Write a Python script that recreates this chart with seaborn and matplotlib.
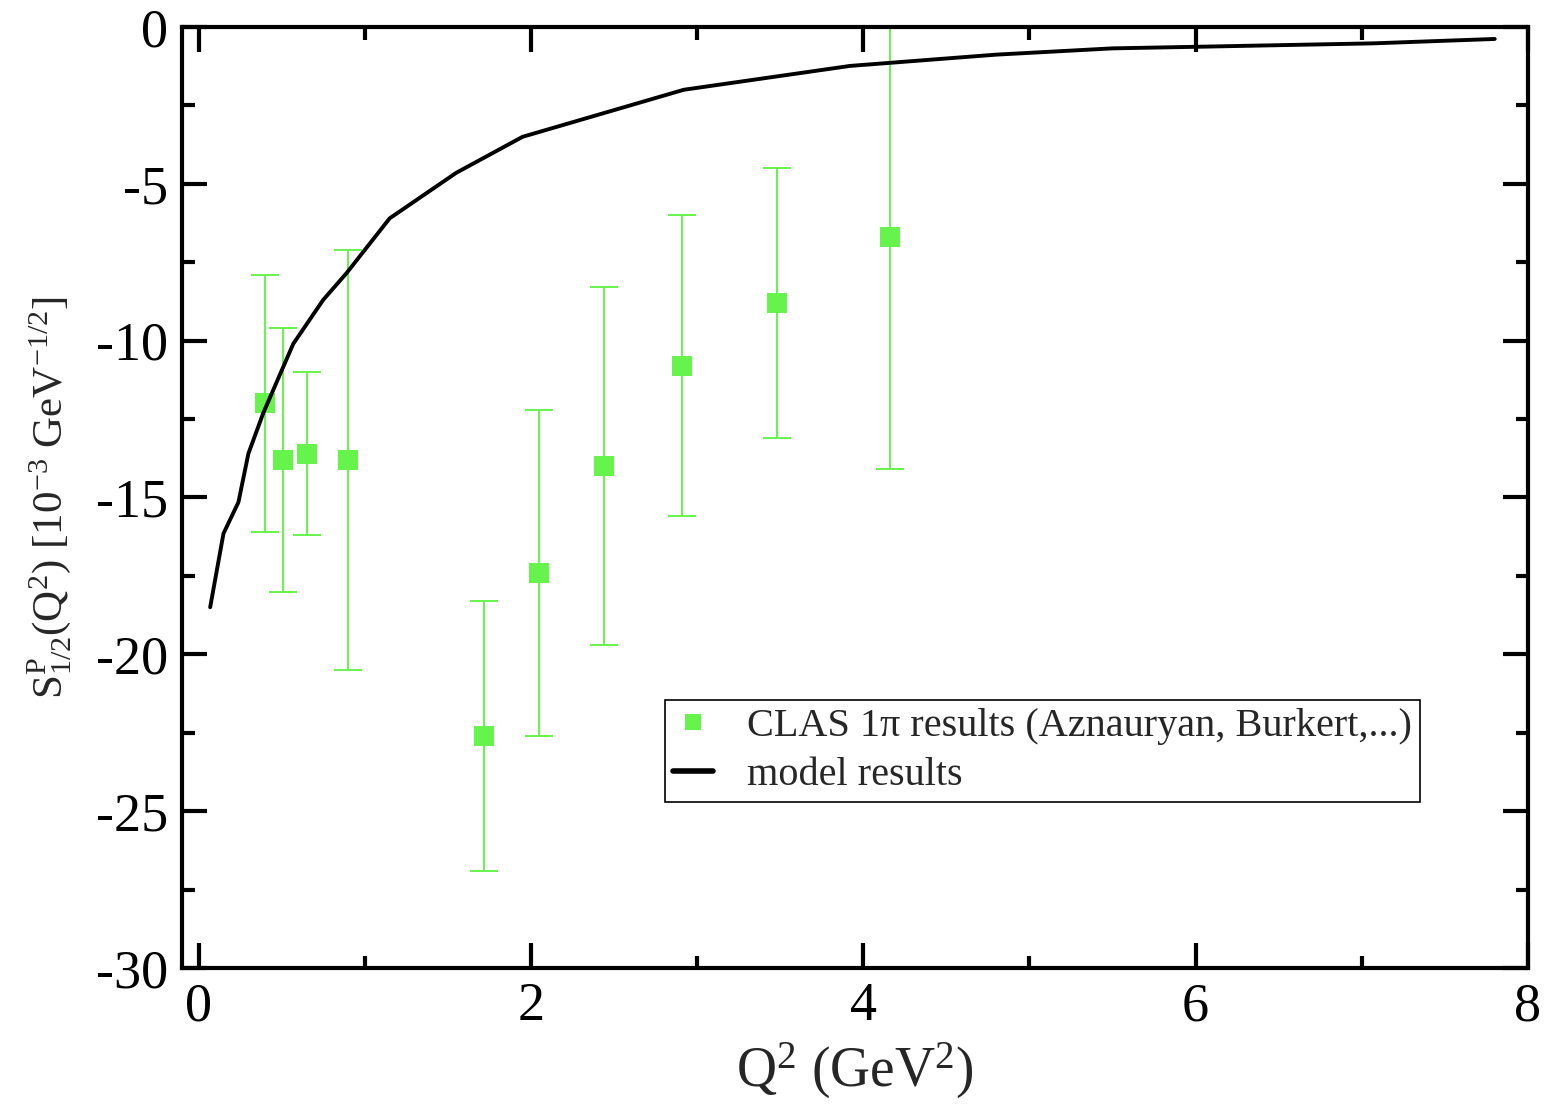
import matplotlib
matplotlib.use("Agg")
import matplotlib.pyplot as plt
from matplotlib.ticker import MultipleLocator
from matplotlib.lines import Line2D
import seaborn as sns
import pandas as pd

# CLAS single-pion data
clas_q2 = [0.40, 0.51, 0.65, 0.90, 1.72, 2.05, 2.44, 2.91, 3.48, 4.16]
clas_s12 = [-12.0, -13.8, -13.6, -13.8, -22.6, -17.4, -14.0, -10.8, -8.8, -6.7]
clas_err = [4.1, 4.2, 2.6, 6.7, 4.3, 5.2, 5.7, 4.8, 4.3, 7.4]

# model curve
model_q2 = [0.07, 0.15, 0.24, 0.30, 0.39, 0.57, 0.75, 0.89, 1.15, 1.55,
            1.95, 2.92, 3.92, 4.80, 5.50, 6.00, 7.07, 7.80]
model_s12 = [-18.5, -16.15, -15.15, -13.6, -12.3, -10.1, -8.7, -7.85, -6.1, -4.65,
             -3.5, -2.0, -1.24, -0.88, -0.68, -0.63, -0.52, -0.38]

sns.set_theme(style="ticks")
plt.rcParams["font.family"] = ["Liberation Serif", "DejaVu Serif"]
plt.rcParams["mathtext.fontset"] = "custom"
plt.rcParams["mathtext.rm"] = "Liberation Serif"
plt.rcParams["mathtext.it"] = "Liberation Serif:italic"
plt.rcParams["mathtext.bf"] = "Liberation Serif:bold"
plt.rcParams["axes.unicode_minus"] = False

green = "#66f44c"

fig = plt.figure(figsize=(15.47, 11.08), dpi=100)
ax = fig.add_axes([0.1176, 0.1264, 0.8701, 0.8492])

model_df = pd.DataFrame({"q2": model_q2, "s12": model_s12})
clas_df = pd.DataFrame({"q2": clas_q2, "s12": clas_s12, "err": clas_err})

ax.errorbar(clas_df["q2"], clas_df["s12"], yerr=clas_df["err"], fmt="none",
            ecolor=green, elinewidth=1.4, capsize=10, capthick=1.4, zorder=2)
sns.scatterplot(data=clas_df, x="q2", y="s12", marker="s", s=210, color=green,
                linewidth=0, ax=ax, zorder=3, legend=False)
sns.lineplot(data=model_df, x="q2", y="s12", color="black", linewidth=2.8,
             ax=ax, zorder=4, sort=False, estimator=None)

ax.set_xlim(-0.1, 8)
ax.set_ylim(-30, 0)
ax.xaxis.set_major_locator(MultipleLocator(2))
ax.xaxis.set_minor_locator(MultipleLocator(1))
ax.yaxis.set_major_locator(MultipleLocator(5))
ax.yaxis.set_minor_locator(MultipleLocator(2.5))
ax.tick_params(which="both", direction="in", top=True, right=True, width=3,
               colors="black")
ax.tick_params(which="major", length=18, labelsize=39, pad=10)
ax.tick_params(which="minor", length=9)
for sp in ax.spines.values():
    sp.set_linewidth(3)
    sp.set_color("black")

ax.set_xlabel(r"Q$^2$ (GeV$^2$)", fontsize=40, labelpad=6)
ax.set_ylabel(r"S$^{\mathrm{P}}_{1/2}$(Q$^2$) [10$^{-3}$ GeV$^{-1/2}$]",
              fontsize=31, labelpad=16)

handles = [
    Line2D([], [], marker="s", linestyle="none", color=green, markersize=12,
           markeredgewidth=0),
    Line2D([], [], color="black", linewidth=4),
]
labels = ["CLAS 1π results (Aznauryan, Burkert,...)", "model results"]
leg = ax.legend(handles, labels, loc="upper right", bbox_to_anchor=(0.920, 0.285),
                fontsize=29, frameon=True, fancybox=False, framealpha=1,
                edgecolor="black", handlelength=1.0, handletextpad=0.85,
                borderpad=0.2, labelspacing=0.3, borderaxespad=0)
leg.get_frame().set_linewidth(1.2)

fig.savefig("out.png", dpi=100)
